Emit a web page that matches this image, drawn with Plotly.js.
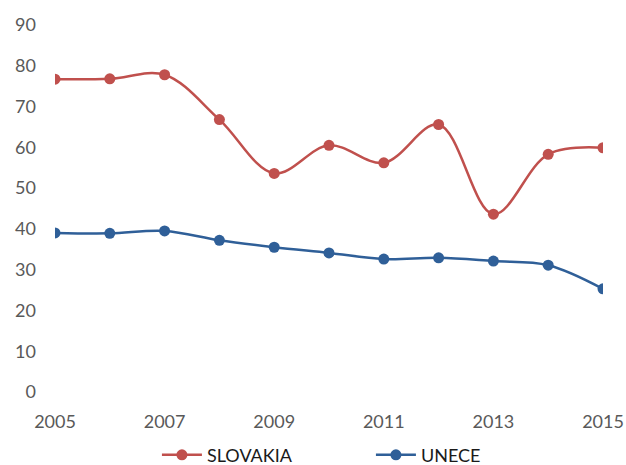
<!DOCTYPE html>
<html>
<head>
<meta charset="utf-8">
<script src="https://cdn.plot.ly/plotly-3.0.1.min.js"></script>
<style>html,body{margin:0;padding:0;background:#fff;}#chart{width:626px;height:465px;}</style>
</head>
<body>
<div id="chart"></div>
<script>
const years = [2005, 2006, 2007, 2008, 2009, 2010, 2011, 2012, 2013, 2014, 2015];
const slovakia = [76.7, 76.8, 77.8, 66.8, 53.6, 60.5, 56.2, 65.6, 43.6, 58.3, 59.9];
const unece = [39.0, 38.9, 39.5, 37.2, 35.5, 34.1, 32.6, 32.9, 32.1, 31.1, 25.3];
const xTicks = [2005, 2007, 2009, 2011, 2013, 2015];
const yTicks = [0, 10, 20, 30, 40, 50, 60, 70, 80, 90];

const font = "Lato, 'Open Sans', 'Liberation Sans', sans-serif";
const traces = [
  {x: years, y: slovakia, name: 'SLOVAKIA', type: 'scatter', mode: 'lines+markers',
   line: {color: '#C0504D', width: 2.5, shape: 'spline', smoothing: 1},
   marker: {color: '#C0504D', size: 11}},
  {x: years, y: unece, name: 'UNECE', type: 'scatter', mode: 'lines+markers',
   line: {color: '#2F5F98', width: 2.5, shape: 'spline', smoothing: 1},
   marker: {color: '#2F5F98', size: 11}}
];
const layout = {
  width: 626, height: 465,
  margin: {l: 55, r: 23, t: 25, b: 73, autoexpand: false},
  paper_bgcolor: '#fff', plot_bgcolor: '#fff',
  font: {family: font, size: 18, color: '#595959'},
  showlegend: true,
  legend: {orientation: 'h', x: 0.186, xanchor: 'left', y: -0.172, yanchor: 'middle',
           font: {family: font, size: 18, color: '#1a1a1a'}, itemwidth: 40, traceorder: 'normal',
           entrywidth: 159, entrywidthmode: 'pixels'},
  xaxis: {range: [2005, 2015], tickvals: xTicks, ticktext: xTicks.map(String),
          showgrid: false, zeroline: false, showline: false, ticks: '', ticklabelstandoff: 17},
  yaxis: {range: [0, 90], tickvals: yTicks, ticktext: yTicks.map(String),
          showgrid: false, zeroline: false, showline: false, ticks: '', ticklabelstandoff: 18}
};
Plotly.newPlot('chart', traces, layout, {displayModeBar: false, staticPlot: true});
</script>
</body>
</html>
